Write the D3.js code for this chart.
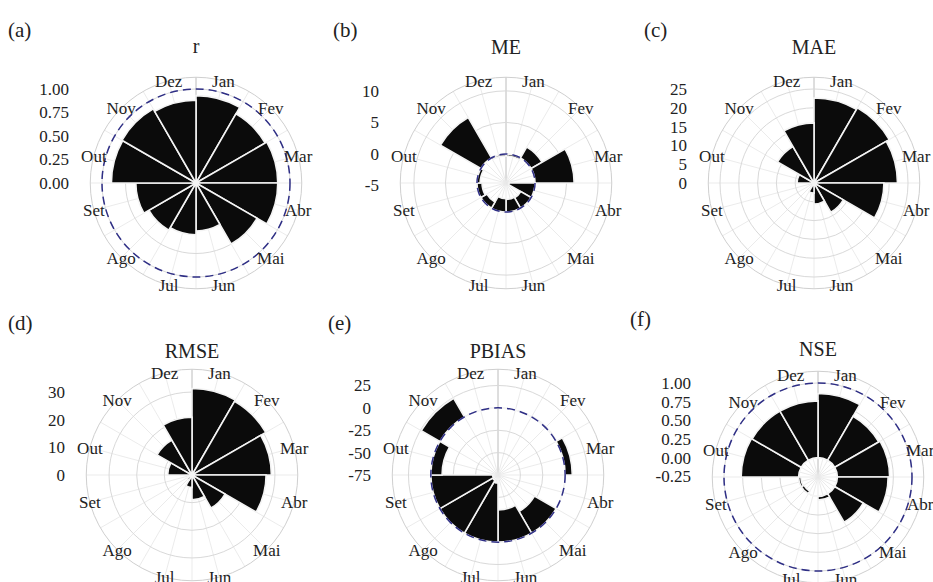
<!DOCTYPE html>
<html>
<head>
<meta charset="utf-8">
<script src="https://cdn.jsdelivr.net/npm/d3@7"></script>
<style>
  body { margin: 0; background: #fff; }
  text { font-family: "Liberation Serif", "Times New Roman", serif; fill: #222; }
</style>
</head>
<body>
<svg id="chart" width="933" height="582"></svg>
<script>
// months (pt-BR abbreviations), clockwise from the top
var months = ["Jan", "Fev", "Mar", "Abr", "Mai", "Jun", "Jul", "Ago", "Set", "Out", "Nov", "Dez"];

// monthly values of each metric
var rVals     = [0.93, 0.85, 0.87, 0.87, 0.75, 0.51, 0.55, 0.58, 0.64, 0.90, 0.91, 0.88];
var meVals    = [-0.3, 2.0, 6.2, -4.1, -1.9, -2.0, -2.1, -1.1, -0.8, -0.5, 7.4, -0.3];
var maeVals   = [22.6, 23.1, 22.2, 18.6, 9.0, 5.6, 2.7, 0.4, 0.3, 4.5, 11.2, 16.0];
var rmseVals  = [31.3, 30.8, 28.7, 26.8, 13.8, 9.0, 4.5, 2.0, 1.5, 8.8, 14.6, 20.9];
var pbiasVals = [0, 1, 8, 0, -28, -36, -66, -68, -69, -12.5, 24, 0];
var nseVals   = [0.86, 0.68, 0.70, 0.68, 0.44, 0.05, 0.0, -0.04, -0.03, 0.77, 0.76, 0.76];

// radial tick labels
var rTicks     = [0, 0.25, 0.5, 0.75, 1];
var meTicks    = [-5, 0, 5, 10];
var maeTicks   = [0, 5, 10, 15, 20, 25];
var rmseTicks  = [0, 10, 20, 30];
var pbiasTicks = [-75, -50, -25, 0, 25];
var nseTicks   = [-0.25, 0, 0.25, 0.5, 0.75, 1];

// radial ranges (centre .. outer data ring)
var rRange     = [0, 1];
var meRange    = [-4.6, 10.3];
var maeRange   = [0, 25];
var rmseRange  = [0, 34];
var pbiasRange = [-75, 30];
var nseRange   = [-0.26, 1];

// plain hyphen for negatives, as in the figure
var fix2 = function(t) { return t.toFixed(2); };
var int0 = function(t) { return String(t); };

var panels = [
  {tag: "(a)", title: "r",     vals: rVals,     ticks: rTicks,     fmt: fix2, dom: rRange,     ref: 1,    cx: 196, cy: 183, ty: 46,  lx: 8,   ly: 30},
  {tag: "(b)", title: "ME",    vals: meVals,    ticks: meTicks,    fmt: int0, dom: meRange,    ref: 0,    cx: 506, cy: 183, ty: 47,  lx: 333, ly: 30},
  {tag: "(c)", title: "MAE",   vals: maeVals,   ticks: maeTicks,   fmt: int0, dom: maeRange,   ref: null, cx: 814, cy: 183, ty: 47,  lx: 644, ly: 30},
  {tag: "(d)", title: "RMSE",  vals: rmseVals,  ticks: rmseTicks,  fmt: int0, dom: rmseRange,  ref: null, cx: 192, cy: 475, ty: 351, lx: 8,   ly: 323},
  {tag: "(e)", title: "PBIAS", vals: pbiasVals, ticks: pbiasTicks, fmt: int0, dom: pbiasRange, ref: 0,    cx: 498, cy: 475, ty: 351, lx: 328, ly: 323},
  {tag: "(f)", title: "NSE",   vals: nseVals,   ticks: nseTicks,   fmt: fix2, dom: nseRange,   ref: 1,    cx: 818, cy: 477, ty: 349, lx: 630, ly: 319}
];

var R = 94;             // radius of the data range
var outerR = R * 1.125; // outer grid ring, like ggplot's 0.45 / 0.4

var svg = d3.select("#chart");
svg.append("rect").attr("width", 933).attr("height", 582).attr("fill", "#fff");

var theta = d3.scaleBand().domain(months).range([0, 2 * Math.PI]);
var bw = theta.bandwidth();

panels.forEach(function(p) {
  var rad = d3.scaleLinear().domain(p.dom).range([0, R]);
  var radC = rad.copy().clamp(true);
  var data = months.map(function(m, i) { return {m: m, v: p.vals[i]}; });

  svg.append("text")
    .attr("x", p.lx).attr("y", p.ly).attr("dy", "0.35em")
    .attr("font-size", 21)
    .text(p.tag);

  svg.append("text")
    .attr("x", p.cx).attr("y", p.ty).attr("dy", "0.35em")
    .attr("text-anchor", "middle")
    .attr("font-size", 20)
    .text(p.title);

  var g = svg.append("g").attr("transform", "translate(" + p.cx + "," + p.cy + ")");

  // spokes: month centres and month borders
  var spokes = d3.range(24).map(function(i) { return i * Math.PI / 12; });
  g.selectAll("line.spoke").data(spokes).enter().append("line")
    .attr("class", "spoke")
    .attr("x1", 0).attr("y1", 0)
    .attr("x2", function(a) { return outerR * Math.sin(a); })
    .attr("y2", function(a) { return -outerR * Math.cos(a); })
    .attr("stroke", function(a, i) { return i === 0 ? "#b4b4b4" : "#e9e9e9"; })
    .attr("stroke-width", 0.9);

  // circles at the tick values plus the outer ring
  var rings = p.ticks.map(function(t) { return rad(t); }).filter(function(r) { return r > 1; });
  rings.push(outerR);
  g.selectAll("circle.ring").data(rings).enter().append("circle")
    .attr("class", "ring")
    .attr("r", function(r) { return r; })
    .attr("fill", "none")
    .attr("stroke", function(r, i) { return i === rings.length - 1 ? "#cfcfcf" : "#d9d9d9"; })
    .attr("stroke-width", 1);

  var arc = d3.arc()
    .innerRadius(function(d) { return radC(Math.min(0, d.v)); })
    .outerRadius(function(d) { return radC(Math.max(0, d.v)); })
    .startAngle(function(d) { return theta(d.m); })
    .endAngle(function(d) { return theta(d.m) + bw; });

  g.selectAll("path.bar").data(data).enter().append("path")
    .attr("class", "bar")
    .attr("d", arc)
    .attr("fill", "#0b0b0b")
    .attr("stroke", "#f4f4f4")
    .attr("stroke-width", 1.6);

  if (p.ref !== null) {
    g.append("circle")
      .attr("r", rad(p.ref))
      .attr("fill", "none")
      .attr("stroke", "#2f2f86")
      .attr("stroke-width", 1.5)
      .attr("stroke-dasharray", "8,5");
  }

  // month labels sit on the outer ring
  g.selectAll("text.month").data(months).enter().append("text")
    .attr("class", "month")
    .attr("x", function(m) { return outerR * Math.sin(theta(m) + bw / 2); })
    .attr("y", function(m) { return -outerR * Math.cos(theta(m) + bw / 2); })
    .attr("dy", "0.35em")
    .attr("text-anchor", "middle")
    .attr("font-size", 17)
    .text(function(m) { return m; });

  // radial axis labels, stacked to the left
  g.selectAll("text.tick").data(p.ticks).enter().append("text")
    .attr("class", "tick")
    .attr("x", -127)
    .attr("y", function(t) { return -rad(t); })
    .attr("dy", "0.35em")
    .attr("text-anchor", "end")
    .attr("font-size", 17)
    .text(function(t) { return p.fmt(t); });
});
</script>
</body>
</html>
